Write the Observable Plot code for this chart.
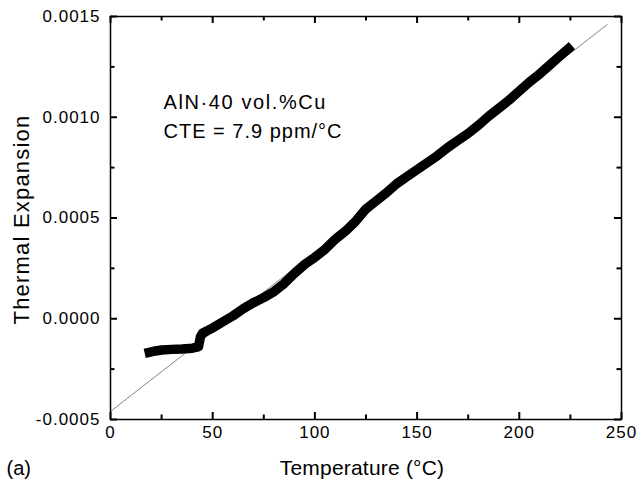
<!DOCTYPE html>
<html>
<head>
<meta charset="utf-8">
<script src="https://cdn.jsdelivr.net/npm/d3@7"></script>
<script src="https://cdn.jsdelivr.net/npm/@observablehq/plot@0.6"></script>
<style>
  html, body { margin: 0; padding: 0; background: #fff; }
  #chart svg { font-family: "Liberation Sans", Arial, Helvetica, sans-serif; }
</style>
</head>
<body>
<div id="chart"></div>
<script>
// Measured curve: temperature (°C) and thermal expansion
const temperature = [19, 22, 25, 30, 35, 40, 43, 44, 45, 50, 55, 60, 65, 70, 75, 80, 85, 90, 95, 100,
  105, 110, 115, 120, 125, 130, 135, 140, 145, 150, 155, 160, 165, 170, 175, 180, 185, 190, 195, 200,
  205, 210, 215, 220, 224];
const expansion = [-0.000167, -0.000160, -0.000155, -0.000152, -0.000150, -0.000146, -0.000140, -0.000090, -0.000072, -0.000045,
  -0.000015, 0.000015, 0.000050, 0.000080, 0.000105, 0.000135, 0.000175, 0.000225, 0.000270, 0.000305,
  0.000345, 0.000395, 0.000435, 0.000485, 0.000545, 0.000585, 0.000625, 0.000670, 0.000705, 0.000740,
  0.000775, 0.000810, 0.000850, 0.000885, 0.000920, 0.000960, 0.001005, 0.001045, 0.001085, 0.001130,
  0.001175, 0.001215, 0.001260, 0.001305, 0.001340];

// Linear fit line (CTE = 7.9 ppm/°C)
const fitT = [0, 243];
const fitY = [-0.00046, 0.00146];

// Axes
const xDomain = [0, 250];
const yDomain = [-0.0005, 0.0015];
const xTicks = [0, 50, 100, 150, 200, 250];
const xMinor = [25, 75, 125, 175, 225];
const yTicks = [-0.0005, 0, 0.0005, 0.0010, 0.0015];
const yTickLabels = ["-0.0005", "0.0000", "0.0005", "0.0010", "0.0015"];
const yMinor = [-0.00025, 0.00025, 0.00075, 0.00125];
const xTitle = "Temperature (°C)";
const yTitle = "Thermal Expansion";
const panelLabel = "(a)";
const annotationLines = ["AlN·40 vol.%Cu", "CTE = 7.9 ppm/°C"];

const W = 637, H = 481, mL = 110, mR = 16, mT = 16, mB = 62;
const curve = temperature.map((t, i) => ({t, e: expansion[i]}));
const fit = fitT.map((t, i) => ({t, e: fitY[i]}));
const yFmt = v => yTickLabels[yTicks.findIndex(d => Math.abs(d - v) < 1e-9)] ?? "";

// convert a tick length in pixels to data units along each axis
const xPerPx = (xDomain[1] - xDomain[0]) / (W - mL - mR);
const yPerPx = (yDomain[1] - yDomain[0]) / (H - mT - mB);
const tickStyle = {stroke: "#000", strokeWidth: 2};
const xTickMarks = (vals, len) => [
  Plot.ruleX(vals, {x: d => d, y1: yDomain[0], y2: yDomain[0] + len * yPerPx, ...tickStyle}),
  Plot.ruleX(vals, {x: d => d, y1: yDomain[1], y2: yDomain[1] - len * yPerPx, ...tickStyle})
];
const yTickMarks = (vals, len) => [
  Plot.ruleY(vals, {y: d => d, x1: xDomain[0], x2: xDomain[0] + len * xPerPx, ...tickStyle}),
  Plot.ruleY(vals, {y: d => d, x1: xDomain[1], x2: xDomain[1] - len * xPerPx, ...tickStyle})
];

const chart = Plot.plot({
  width: W,
  height: H,
  marginLeft: mL,
  marginRight: mR,
  marginTop: mT,
  marginBottom: mB,
  style: {background: "#fff", color: "#000", fontSize: "17px"},
  x: {domain: xDomain, axis: null},
  y: {domain: yDomain, axis: null},
  marks: [
    // fit line
    Plot.line(fit, {x: "t", y: "e", stroke: "#777", strokeWidth: 0.9}),
    // data curve
    Plot.line(curve, {x: "t", y: "e", stroke: "#000", strokeWidth: 9.5, strokeLinejoin: "round", strokeLinecap: "square"}),
    // frame
    Plot.frame({stroke: "#000", strokeWidth: 1.5}),
    // inward ticks on all four sides
    ...xTickMarks(xTicks, 7),
    ...xTickMarks(xMinor, 4.5),
    ...yTickMarks(yTicks, 7),
    ...yTickMarks(yMinor, 4.5),
    // tick labels
    Plot.axisX(xTicks, {anchor: "bottom", tickSize: 0, tickPadding: 6, fontSize: 17, label: null}),
    Plot.axisY(yTicks, {anchor: "left", tickSize: 0, tickPadding: 10, fontSize: 17, tickFormat: yFmt, label: null}),
    // axis titles
    Plot.text([xTitle], {frameAnchor: "bottom", text: d => d, textAnchor: "middle", dx: -4, dy: 55, lineAnchor: "bottom", fontSize: 21, fill: "#000"}),
    Plot.text([yTitle], {frameAnchor: "left", text: d => d, textAnchor: "middle", rotate: -90, dx: -82, dy: 1.5, lineAnchor: "bottom", fontSize: 22, fill: "#000"}),
    Plot.text([panelLabel], {frameAnchor: "bottom-left", text: d => d, textAnchor: "start", dx: -104, dy: 55, lineAnchor: "bottom", fontSize: 20, fill: "#000"}),
    // annotation
    Plot.text([annotationLines[0]], {frameAnchor: "top-left", text: d => d, textAnchor: "start", dx: 53, dy: 92, lineAnchor: "bottom", fontSize: 20, fill: "#000"}),
    Plot.text([annotationLines[1]], {frameAnchor: "top-left", text: d => d, textAnchor: "start", dx: 53, dy: 121, lineAnchor: "bottom", fontSize: 20, fill: "#000"})
  ]
});
document.getElementById("chart").appendChild(chart);

// widen letter spacing to match the reference's wide lettering
const spacing = new Map([
  [yTitle, "1.2px"],
  [annotationLines[0], "1.6px"],
  [annotationLines[1], "1px"],
  [xTitle, "0.2px"]
]);
d3.select(chart).selectAll("text").each(function () {
  const s = this.textContent;
  if (spacing.has(s)) this.setAttribute("letter-spacing", spacing.get(s));
  else if (yTickLabels.includes(s) || xTicks.map(String).includes(s)) this.setAttribute("letter-spacing", "1px");
});
</script>
</body>
</html>
